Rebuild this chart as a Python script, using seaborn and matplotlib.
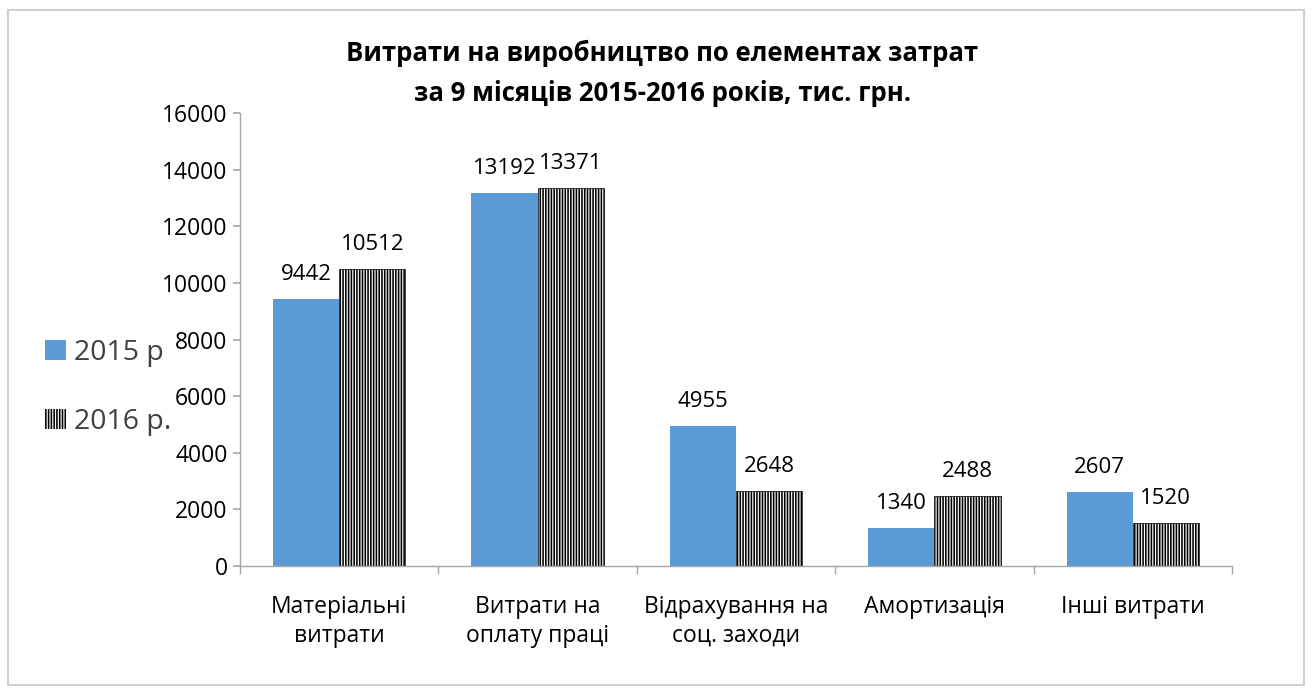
import pandas as pd
import numpy as np
import matplotlib.pyplot as plt
import matplotlib.patches as mpatches
import seaborn as sns

# Data
categories = ["Матеріальні\nвитрати", "Витрати на\nоплату праці",
              "Відрахування на\nсоц. заходи", "Амортизація", "Інші витрати"]
series = ["2015 р", "2016 р."]
values_2015 = [9442, 13192, 4955, 1340, 2607]
values_2016 = [10512, 13371, 2648, 2488, 1520]

df = pd.DataFrame({
    "Category": categories * 2,
    "Year": [series[0]] * 5 + [series[1]] * 5,
    "Value": values_2015 + values_2016,
})

sns.set_theme(style="white")
plt.rcParams['font.family'] = ['Open Sans', 'DejaVu Sans']
plt.rcParams['hatch.linewidth'] = 1.15

fig = plt.figure(figsize=(13.12, 6.91), dpi=100)
ax = fig.add_axes([0.183, 0.181, 0.756, 0.655])

sns.barplot(data=df, x="Category", y="Value", hue="Year", order=categories,
            hue_order=series, palette=["#5b9bd5", "white"], width=0.667,
            saturation=1, ax=ax, legend=False)

# hatch the 2016 bars
for bar in ax.containers[1]:
    bar.set_edgecolor("black")
    bar.set_hatch("||||||")
    bar.set_linewidth(0.5)
for bar in ax.containers[0]:
    bar.set_linewidth(0)

for cont in ax.containers:
    ax.bar_label(cont, fmt="%d", padding=10, fontsize=16, color="black")

ax.set_ylim(0, 16000)
ax.set_yticks(np.arange(0, 16001, 2000))
ax.set_xlim(-0.5, 4.5)
ax.set_xlabel("")
ax.set_ylabel("")
for s in ["top", "right"]:
    ax.spines[s].set_visible(False)
for s in ["left", "bottom"]:
    ax.spines[s].set_color("#a6a6a6")
    ax.spines[s].set_linewidth(1)

ax.tick_params(axis="y", length=5, color="#a6a6a6", direction="out",
               labelsize=16.5, labelcolor="black", pad=4, left=True)
ax.tick_params(axis="x", which="major", length=0, labelsize=16.5,
               labelcolor="black", pad=21)
ax.set_xticks(np.arange(-0.5, 4.6, 1), minor=True)
ax.tick_params(axis="x", which="minor", length=6, color="#a6a6a6",
               direction="out", bottom=True)
for lbl in ax.get_xticklabels():
    lbl.set_linespacing(1.25)

fig.text(0.505, 0.894, "Витрати на виробництво по елементах затрат\n"
         "за 9 місяців 2015-2016 років, тис. грн.",
         ha="center", va="center", fontsize=18.5, fontweight="bold",
         color="black", linespacing=1.65)

# legend on the left
handles = [mpatches.Patch(facecolor="#5b9bd5", edgecolor="none"),
           mpatches.Patch(facecolor="white", edgecolor="black", hatch="||||||",
                          linewidth=0)]
fig.legend(handles, series, loc="center left", bbox_to_anchor=(0.015, 0.439),
           frameon=False, fontsize=20.5, handlelength=0.72, handleheight=0.72,
           handletextpad=0.3, labelspacing=1.45, labelcolor="#404040")

# outer chart border
fig.patches.append(mpatches.Rectangle((0.006, 0.008), 0.988, 0.978,
                                      transform=fig.transFigure, fill=False,
                                      edgecolor="#d0d0d0", linewidth=1.5))

fig.savefig("out.png", dpi=100, facecolor="white")
